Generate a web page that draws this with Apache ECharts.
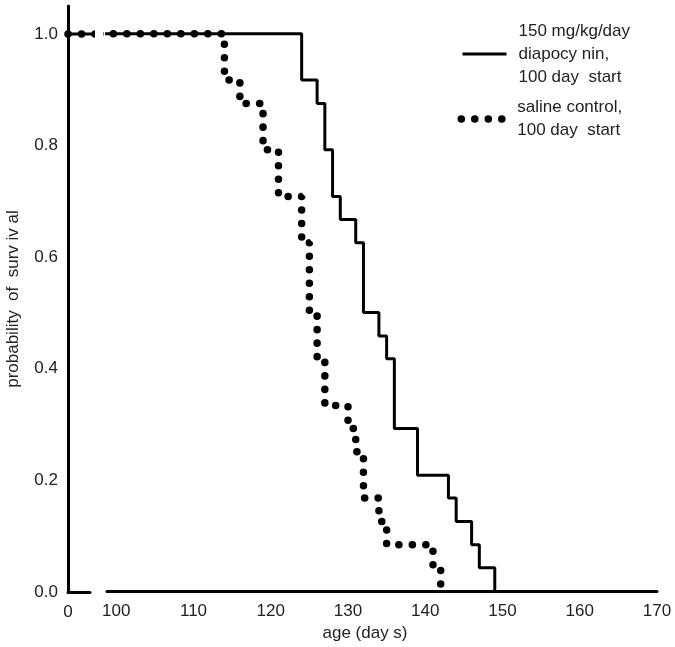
<!DOCTYPE html>
<html>
<head>
<meta charset="utf-8">
<script src="https://cdn.jsdelivr.net/npm/echarts@6/dist/echarts.min.js"></script>
<style>
  html, body { margin: 0; padding: 0; background: #fff; }
  #chart { width: 675px; height: 647px; }
</style>
</head>
<body>
<div id="chart"></div>
<script>
// survival steps (24 animals per group)
let drugDays = [0, 124, 126, 127, 128, 129, 131, 132, 134, 135, 136, 139, 143, 144, 146, 147, 149];
let drugSurv = [1.0, 0.917, 0.875, 0.792, 0.708, 0.667, 0.625, 0.5, 0.458, 0.417, 0.292, 0.208, 0.167, 0.125, 0.083, 0.042, 0];
let salineDays = [0, 114, 116, 119, 121, 124, 125, 126, 127, 130, 131, 132, 134, 135, 141, 142];
let salineSurv = [1.0, 0.917, 0.875, 0.792, 0.708, 0.625, 0.5, 0.417, 0.333, 0.292, 0.25, 0.167, 0.125, 0.083, 0.042, 0];
let xLabelsLeft = [0];
let xLabels = [100, 110, 120, 130, 140, 150, 160, 170];
let yLabels = [0, 0.2, 0.4, 0.6, 0.8, 1.0];
let drugName = '150 mg/kg/day\ndiapocy nin,\n100 day  start';
let salineName = 'saline control,\n100 day  start';

let font = "'Liberation Sans', Arial, sans-serif";
let txt = '#222';
let chart = echarts.init(document.getElementById('chart'));

function pairs(xs, ys) {
    return xs.map(function (x, i) { return [x, ys[i]]; });
}

let solidLine = { color: '#000', width: 3, type: 'solid' };
let dotLine = { color: '#000', width: 7.5, type: [0.1, 13.4], cap: 'round' };
let axisLine = { show: true, onZero: false, lineStyle: { color: '#000', width: 3 } };
let labelStyle = { color: txt, fontSize: 17, fontFamily: font };

// two grids: a short stub for day 0, then the broken axis from ~99 to 170
let series = [];
[0, 1].forEach(function (g) {
    series.push({
        name: drugName, type: 'line', xAxisIndex: g, yAxisIndex: g,
        step: 'end', symbol: 'none', z: 2,
        itemStyle: { color: '#000' }, lineStyle: solidLine,
        data: pairs(drugDays, drugSurv)
    });
    series.push({
        name: salineName, type: 'line', xAxisIndex: g, yAxisIndex: g,
        step: 'end', symbol: 'none', z: 3,
        itemStyle: { color: '#000' }, lineStyle: dotLine,
        data: pairs(salineDays, salineSurv)
    });
});

let legendBase = {
    padding: 0, itemWidth: 44, itemHeight: 14,
    selectedMode: false, orient: 'vertical',
    itemStyle: { opacity: 0 }
};

let option = {
    animation: false,
    backgroundColor: '#fff',
    grid: [
        { left: 68, width: 22, top: 6, bottom: 55 },
        { left: 107, right: 18, top: 6, bottom: 55 }
    ],
    legend: [
        Object.assign({}, legendBase, {
            left: 461, top: -3.5, data: [drugName],
            lineStyle: { color: '#000', width: 3, type: 'solid' },
            textStyle: Object.assign({}, labelStyle, { lineHeight: 23, padding: [46, 0, 0, 7] })
        }),
        Object.assign({}, legendBase, {
            left: 457.5, top: 84.5, data: [salineName],
            lineStyle: { color: '#000', width: 7.5, type: [0.1, 13.4], cap: 'round' },
            textStyle: Object.assign({}, labelStyle, { lineHeight: 23, padding: [23, 0, 0, 7] })
        })
    ],
    xAxis: [
        {
            gridIndex: 0, type: 'value', min: 0, max: 3,
            axisLine: axisLine, axisTick: { show: false }, splitLine: { show: false },
            axisLabel: Object.assign({ customValues: xLabelsLeft, margin: 12 }, labelStyle)
        },
        {
            gridIndex: 1, type: 'value', min: 98.8, max: 170,
            axisLine: axisLine, axisTick: { show: false }, splitLine: { show: false },
            axisLabel: Object.assign({ customValues: xLabels, margin: 12 }, labelStyle),
            name: 'age (day s)', nameLocation: 'middle', nameGap: 33,
            nameTextStyle: Object.assign({ padding: [0, 34, 0, 0] }, labelStyle)
        }
    ],
    yAxis: [
        {
            gridIndex: 0, type: 'value', min: 0, max: 1.05,
            axisLine: axisLine, axisTick: { show: false }, splitLine: { show: false },
            axisLabel: Object.assign({
                customValues: yLabels, margin: 10,
                formatter: function (v) { return v.toFixed(1); }
            }, labelStyle),
            name: 'probability  of  surv iv al', nameLocation: 'middle', nameGap: 46,
            nameTextStyle: Object.assign({}, labelStyle, { fontSize: 17 })
        },
        {
            gridIndex: 1, type: 'value', min: 0, max: 1.05, show: false
        }
    ],
    series: series
};

chart.setOption(option);
</script>
</body>
</html>
